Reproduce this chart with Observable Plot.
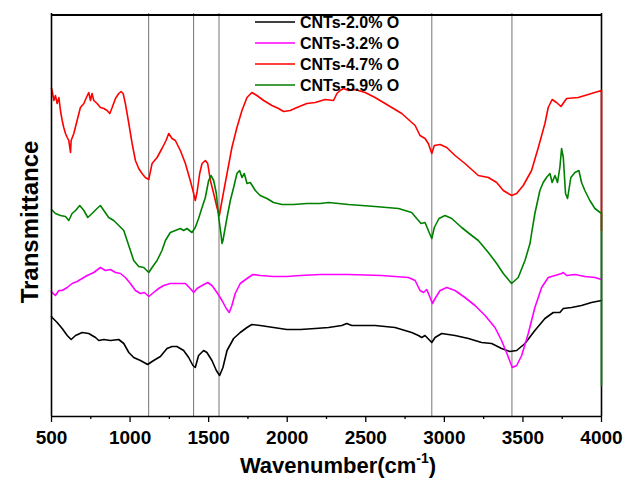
<!DOCTYPE html>
<html>
<head>
<meta charset="utf-8">
<script src="https://cdn.jsdelivr.net/npm/d3@7"></script>
<script src="https://cdn.jsdelivr.net/npm/@observablehq/plot@0.6"></script>
<style>
  html, body { margin: 0; padding: 0; background: #fff; overflow: hidden; }
  svg { display: block; }
</style>
</head>
<body>
<div id="chart"></div>
<script>
const seriesNames = ["CNTs-2.0% O", "CNTs-3.2% O", "CNTs-4.7% O", "CNTs-5.9% O"];
const seriesColors = ["#000000", "#ff00ff", "#ff0000", "#008000"];
const peakLines = [1118, 1404, 1566, 2920, 3430];
const majorTicks = [500, 1000, 1500, 2000, 2500, 3000, 3500, 4000];
const minorTicks = [750, 1250, 1750, 2250, 2750, 3250, 3750];

const cnt20 = [[500,100],[504,99],[536,94],[568,88],[600,81],[625,77],[653,81],[695,84],[737,83],[780,79],[801,76],[833,77],[875,76],[928,77],[960,73],[992,64],[1023,59],[1066,56],[1112,52],[1150,56],[1193,60],[1235,68],[1267,70],[1298,70],[1341,66],[1373,59],[1400,51],[1415,49],[1436,61],[1468,66],[1489,64],[1521,56],[1549,46],[1570,41],[1591,49],[1617,66],[1659,78],[1701,84],[1744,89],[1775,92],[1828,91],[1913,89],[1998,87],[2083,87],[2178,88],[2263,89],[2347,91],[2379,93],[2411,91],[2559,91],[2686,89],[2792,84],[2835,81],[2856,79],[2877,81],[2920,74],[2941,79],[2983,83],[3068,81],[3153,78],[3237,74],[3301,73],[3364,68],[3417,65],[3460,66],[3513,73],[3576,86],[3640,98],[3693,104],[3735,104],[3757,108],[3809,109],[3873,111],[3936,114],[4000,116]];

const cnt32 = [[500,125],[504,124],[525,121],[547,126],[568,126],[600,129],[631,133],[663,135],[695,138],[727,141],[769,144],[811,149],[843,146],[875,147],[907,144],[939,143],[970,139],[1002,133],[1034,126],[1066,123],[1091,124],[1119,120],[1150,124],[1182,128],[1214,131],[1256,133],[1298,133],[1352,133],[1383,128],[1405,124],[1426,128],[1458,131],[1494,134],[1521,131],[1553,124],[1585,116],[1612,108],[1631,104],[1648,111],[1669,123],[1701,133],[1744,138],[1782,142],[1828,141],[1913,140],[1998,140],[2083,141],[2210,142],[2390,142],[2602,141],[2771,139],[2814,136],[2845,126],[2867,124],[2888,127],[2909,119],[2924,113],[2941,118],[2973,126],[3015,129],[3068,126],[3131,119],[3195,111],[3259,101],[3322,89],[3364,76],[3403,61],[3432,49],[3460,51],[3492,61],[3534,83],[3576,109],[3619,129],[3661,139],[3704,141],[3746,143],[3757,144],[3778,141],[3831,142],[3894,140],[3958,139],[4000,137]];

const cnt47 = [[500,328],[504,326],[515,316],[525,321],[536,313],[547,319],[557,306],[568,296],[578,289],[589,283],[600,279],[610,276],[621,264],[625,276],[642,283],[663,296],[684,309],[706,313],[722,319],[737,324],[748,316],[758,323],[769,316],[790,313],[811,309],[833,308],[854,306],[871,303],[886,309],[907,318],[928,323],[943,325],[956,323],[970,313],[992,293],[1013,273],[1034,256],[1055,248],[1076,243],[1097,239],[1119,237],[1140,253],[1172,259],[1203,268],[1229,276],[1246,283],[1267,278],[1288,276],[1320,266],[1352,253],[1383,236],[1400,226],[1415,216],[1426,224],[1443,243],[1458,253],[1479,256],[1494,253],[1511,236],[1532,223],[1553,209],[1568,201],[1585,216],[1617,243],[1648,269],[1680,289],[1712,306],[1744,319],[1775,324],[1807,321],[1850,316],[1903,311],[1945,308],[1977,305],[2019,306],[2062,309],[2125,313],[2178,314],[2242,317],[2295,316],[2316,323],[2337,326],[2358,328],[2390,326],[2432,327],[2496,324],[2559,319],[2644,311],[2729,303],[2814,291],[2845,281],[2877,278],[2898,273],[2920,263],[2936,271],[2973,272],[3015,269],[3068,261],[3131,253],[3216,241],[3280,239],[3333,234],[3375,226],[3428,221],[3460,223],[3502,231],[3555,246],[3598,269],[3640,293],[3661,309],[3686,317],[3714,314],[3742,310],[3778,318],[3852,319],[3936,323],[4000,326],[4000,186]];

const cnt59 = [[500,207],[525,203],[557,201],[589,200],[610,196],[631,203],[653,206],[680,211],[706,206],[731,199],[758,203],[790,208],[811,211],[833,206],[864,199],[896,196],[928,191],[960,186],[981,176],[1002,166],[1023,156],[1055,150],[1087,149],[1119,144],[1140,149],[1172,156],[1203,166],[1225,176],[1256,184],[1288,186],[1320,188],[1341,186],[1362,188],[1394,184],[1415,189],[1436,198],[1458,209],[1479,219],[1500,236],[1515,241],[1532,236],[1549,223],[1564,199],[1578,183],[1585,173],[1591,176],[1617,199],[1638,216],[1659,229],[1680,243],[1697,246],[1712,239],[1727,243],[1744,233],[1765,234],[1797,226],[1828,221],[1871,218],[1913,214],[1966,212],[2040,212],[2125,213],[2210,213],[2263,214],[2390,212],[2559,210],[2708,208],[2792,204],[2824,198],[2852,193],[2877,194],[2898,186],[2920,178],[2936,189],[2966,198],[3004,201],[3047,198],[3110,189],[3174,181],[3216,176],[3280,164],[3333,153],[3375,143],[3428,133],[3470,139],[3513,156],[3545,173],[3555,183],[3576,203],[3608,226],[3629,234],[3650,239],[3672,243],[3686,234],[3704,241],[3720,234],[3735,249],[3746,268],[3757,259],[3771,223],[3784,218],[3805,239],[3831,244],[3856,246],[3873,234],[3894,226],[3926,216],[3958,208],[4000,203],[4000,31]];

const allSeries = [cnt20, cnt32, cnt47, cnt59];
const xDomain = [500, 4000];
const yDomain = [0, 403];

const FONT = "'Liberation Sans', Arial, Helvetica, sans-serif";

const lineMarks = allSeries.map((s, i) =>
  Plot.line(s, {x: d => d[0], y: d => d[1], stroke: seriesColors[i], strokeWidth: 1.6, curve: "linear"})
);

const chart = Plot.plot({
  width: 635,
  height: 479,
  marginLeft: 51,
  marginRight: 34,
  marginTop: 13,
  marginBottom: 63,
  style: {fontFamily: FONT, background: "#fff", overflow: "visible"},
  x: {domain: xDomain},
  y: {domain: yDomain, axis: null},
  marks: [
    Plot.ruleX(peakLines, {stroke: "#808080", strokeWidth: 1.1}),
    Plot.ruleX([xDomain[1]], {stroke: "#000", strokeWidth: 1.6}),
    ...lineMarks,
    Plot.ruleX([xDomain[0]], {stroke: "#000", strokeWidth: 1.6}),
    Plot.ruleY([yDomain[0]], {stroke: "#000", strokeWidth: 1.6}),
    Plot.ruleY([yDomain[1]], {stroke: "#000", strokeWidth: 2, dy: 1.5}),
    Plot.axisX(minorTicks, {tickSize: 3, text: null, strokeWidth: 1.3, label: null}),
    Plot.axisX(majorTicks, {tickSize: 6, tickPadding: 8, fontSize: 19, fontWeight: "bold", strokeWidth: 1.3, label: null, tickFormat: d => String(d)})
  ]
});

document.getElementById("chart").appendChild(chart);

const svg = d3.select(chart);

// x label with superscript
const xl = svg.append("text")
  .attr("x", 338).attr("y", 473)
  .attr("text-anchor", "middle")
  .attr("font-family", FONT).attr("font-weight", "bold").attr("font-size", 22)
  .attr("fill", "#000");
xl.append("tspan").text("Wavenumber(cm");
xl.append("tspan").attr("font-size", 14).attr("dy", -10).text("-1");
xl.append("tspan").attr("dy", 10).text(")");

// y label
svg.append("text")
  .attr("transform", "translate(38,222) rotate(-90)")
  .attr("text-anchor", "middle")
  .attr("font-family", FONT).attr("font-weight", "bold").attr("font-size", 24)
  .attr("fill", "#000")
  .text("Transmittance");

// legend
const lg = svg.append("g");
seriesNames.forEach((name, i) => {
  const cy = 22 + i * 21;
  lg.append("line").attr("x1", 255).attr("x2", 295).attr("y1", cy).attr("y2", cy)
    .attr("stroke", seriesColors[i]).attr("stroke-width", 1.6);
  lg.append("text").attr("x", 300).attr("y", cy).attr("dy", "0.36em")
    .attr("text-anchor", "start")
    .attr("font-family", FONT).attr("font-weight", "bold").attr("font-size", 16)
    .attr("fill", "#000").text(name);
});
</script>
</body>
</html>
